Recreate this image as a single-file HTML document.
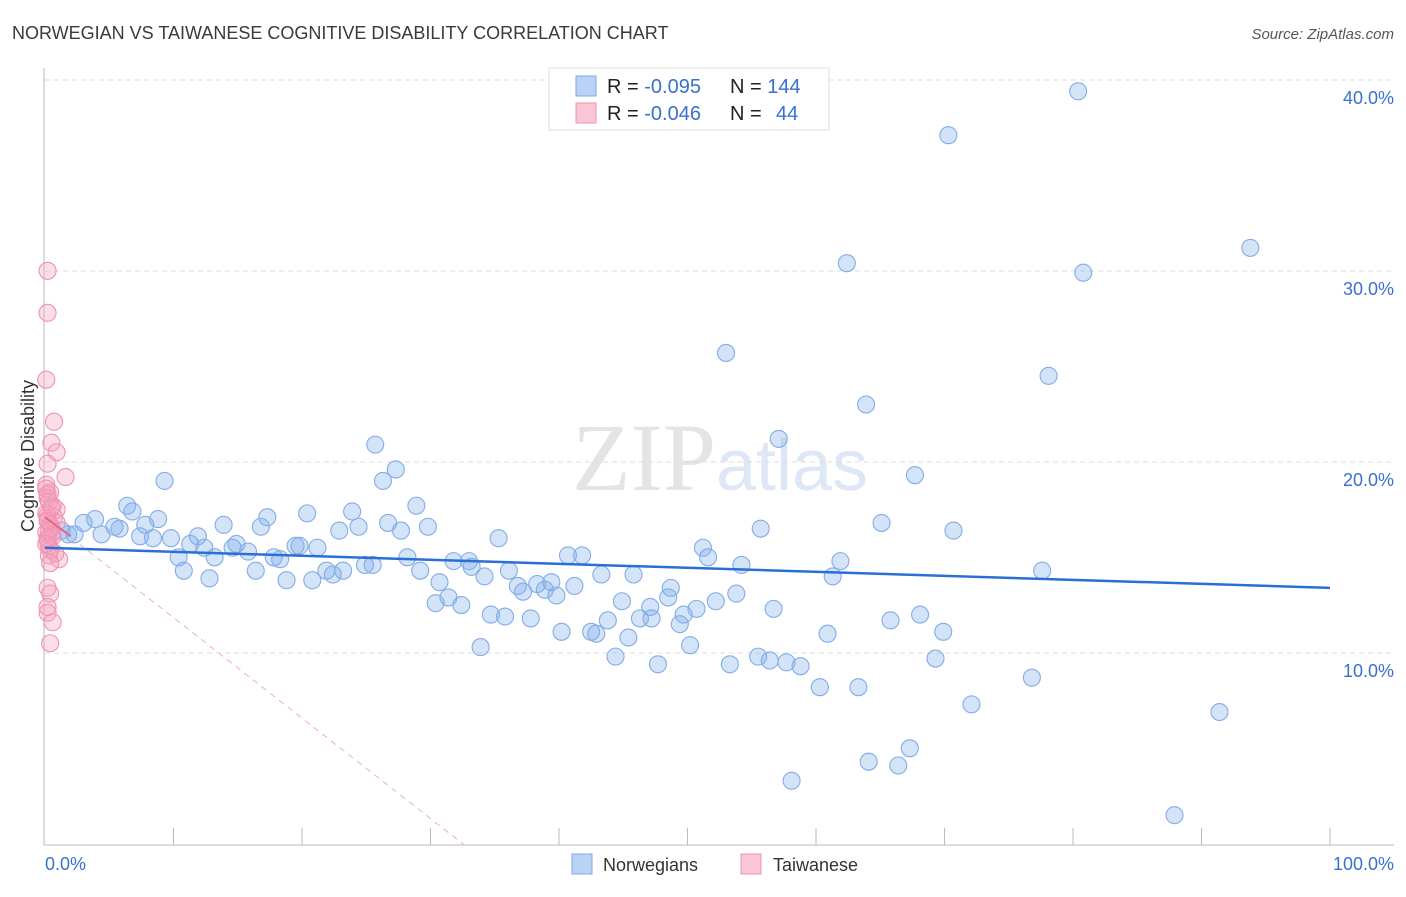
<!DOCTYPE html>
<html><head><meta charset="utf-8"><style>
body{margin:0;background:#fff;font-family:"Liberation Sans",sans-serif;}
svg text{font-family:"Liberation Sans",sans-serif;}
</style></head><body>
<svg id="chart" width="1406" height="892" xmlns="http://www.w3.org/2000/svg">
<text x="12" y="39" font-size="18" fill="#3a3a3a">NORWEGIAN VS TAIWANESE COGNITIVE DISABILITY CORRELATION CHART</text>
<text x="1394" y="39" font-size="15" fill="#555" font-style="italic" text-anchor="end">Source: ZipAtlas.com</text>
<text x="720" y="490" font-size="96" text-anchor="middle" fill="#e4e4e4" font-family="Liberation Serif"><tspan font-family="Liberation Serif">ZIP</tspan><tspan fill="#dde7f5" font-family="Liberation Sans" font-size="72">atlas</tspan></text>
<g id="grid"></g><g id="axes"></g><g id="pts"></g><g id="trend"></g>
<text transform="translate(34,456) rotate(-90)" font-size="18" fill="#333" text-anchor="middle">Cognitive Disability</text>
<text x="45" y="870" font-size="18" fill="#3a70d0">0.0%</text>
<text x="1394" y="870" font-size="18" fill="#3a70d0" text-anchor="end">100.0%</text>
<g>
<rect x="549" y="68" width="280" height="62" fill="#fff" stroke="#ddd"/>
<rect x="576" y="76" width="20" height="20" fill="#b9d2f5" stroke="#7ea9e6"/>
<rect x="576" y="103" width="20" height="20" fill="#f9c6d6" stroke="#ee93b0"/>
<text x="607" y="93" font-size="20" fill="#222">R = <tspan fill="#3a70d0">-0.095</tspan><tspan x="730">N = </tspan><tspan fill="#3a70d0">144</tspan></text>
<text x="607" y="120" font-size="20" fill="#222">R = <tspan fill="#3a70d0">-0.046</tspan><tspan x="730">N = </tspan><tspan fill="#3a70d0" x="776">44</tspan></text>
</g>
<g>
<rect x="572" y="854" width="20" height="20" fill="#b9d2f5" stroke="#7ea9e6"/>
<text x="603" y="871" font-size="18" fill="#333">Norwegians</text>
<rect x="741" y="854" width="20" height="20" fill="#f9c6d6" stroke="#ee93b0"/>
<text x="773" y="871" font-size="18" fill="#333">Taiwanese</text>
</g>
</svg>
<script>
const yTicks=[10,20,30,40];
const yTickLabels=["10.0%","20.0%","30.0%","40.0%"];
const xTicks=[10,20,30,40,50,60,70,80,90,100];
const blueX=[80.4,70.3,93.8,62.4,80.8,53.0,78.1,63.9,57.1,25.7,67.7,27.3,9.3,26.3,28.9,6.4,6.8,20.4,17.3,23.9,8.8,29.8,26.7,16.8,24.4,22.9,27.7,70.7,55.7,65.1,3.9,3.0,5.4,5.8,7.8,13.9,1.3,1.8,2.3,4.4,7.4,8.4,9.8,11.3,11.9,14.9,14.6,15.8,12.4,19.5,19.8,21.2,35.3,51.2,40.7,41.8,17.8,18.3,10.4,13.2,28.2,24.9,25.5,31.8,33.0,51.6,54.2,61.9,10.8,16.4,21.9,23.2,22.4,29.2,33.2,34.2,36.1,43.3,45.8,61.3,77.6,12.8,18.8,20.8,30.7,36.8,38.3,39.4,41.2,48.7,37.2,38.9,39.8,31.4,53.8,30.4,32.4,44.9,48.5,52.2,47.1,50.7,56.7,34.7,35.8,49.7,68.1,46.3,47.2,43.8,65.8,37.8,49.4,69.9,40.2,42.5,42.9,45.4,60.9,33.9,50.2,44.4,55.5,56.4,57.7,47.7,53.3,58.8,69.3,76.8,60.3,63.3,72.1,91.4,67.3,64.1,66.4,58.1,87.9];
const blueY=[40.3,38.0,32.1,31.3,30.8,26.6,25.4,23.9,22.1,21.8,20.2,20.5,19.9,19.9,18.6,18.6,18.3,18.2,18.0,18.3,17.9,17.5,17.7,17.5,17.5,17.3,17.3,17.3,17.4,17.7,17.9,17.7,17.5,17.4,17.6,17.6,17.3,17.1,17.1,17.1,17.0,16.9,16.9,16.6,17.0,16.6,16.4,16.2,16.4,16.5,16.5,16.4,16.9,16.4,16.0,16.0,15.9,15.8,15.9,15.9,15.9,15.5,15.5,15.7,15.7,15.9,15.5,15.7,15.2,15.2,15.2,15.2,15.0,15.2,15.4,14.9,15.2,15.0,15.0,14.9,15.2,14.8,14.7,14.7,14.6,14.4,14.5,14.6,14.4,14.3,14.1,14.2,13.9,13.8,14.0,13.5,13.4,13.6,13.8,13.6,13.3,13.2,13.2,12.9,12.8,12.9,12.9,12.7,12.7,12.6,12.6,12.7,12.4,12.0,12.0,12.0,11.9,11.7,11.9,11.2,11.3,10.7,10.7,10.5,10.4,10.3,10.3,10.2,10.6,9.6,9.1,9.1,8.2,7.8,5.9,5.2,5.0,4.2,2.4];
const pinkX=[0.2,0.2,0.1,0.7,0.5,0.9,0.2,1.6,0.1,0.4,0.2,0.6,0.2,0.9,0.2,0.4,0.1,0.5,0.2,0.3,1.1,0.2,0.4,0.2,0.2,0.6,0.4,0.1,0.3,0.7,0.5,0.2,0.4,0.9,0.1,0.3,0.6,0.2,0.5,0.3,0.1,0.8,0.4,0.2];
const pinkY=[30.9,28.7,25.2,23.0,21.9,21.4,20.8,20.1,19.7,19.3,19.0,18.6,18.1,18.4,17.9,17.6,17.2,17.1,16.8,16.5,15.8,14.3,14.0,13.3,13.0,12.5,11.4,19.5,18.8,18.0,17.4,16.9,16.3,17.7,18.2,16.0,17.0,19.2,18.5,17.3,16.6,16.1,15.6,17.8];
const blueTrend=[16.4,14.3];
const pinkTrend=[18.0,0.8];
const X=v=>45+v*12.85, Y=v=>861-v*19.1;
const NS="http://www.w3.org/2000/svg";
function mk(t,p,a){const e=document.createElementNS(NS,t);for(const k in a)e.setAttribute(k,a[k]);document.getElementById(p).appendChild(e);return e;}
yTicks.forEach((t,i)=>{
 const l=mk('line','grid',{x1:45,x2:1394,y1:Y(t)-17,y2:Y(t)-17,stroke:'#ddd','stroke-dasharray':'5,4'});
 
 
 const tx=mk('text','grid',{x:1394,y:Y(t)+7,'font-size':18,fill:'#3a70d0','text-anchor':'end'});
 tx.textContent=yTickLabels[i];
 
 
});
const ya=mk('line','axes',{x1:44,x2:44,y1:68,y2:845,stroke:'#bbb'});


const xa=mk('line','axes',{x1:44,x2:1394,y1:845,y2:845,stroke:'#bbb'});


xTicks.forEach(t=>{const l=mk('line','axes',{x1:X(t),x2:X(t),y1:828,y2:845,stroke:'#bbb'});
 
 });
blueX.forEach((v,i)=>{const c=mk('circle','pts',{cx:X(v),cy:Y(blueY[i]),r:8.5,fill:'rgba(130,175,235,0.35)',stroke:'#84ace6','stroke-width':1.1});
 
 });
pinkX.forEach((v,i)=>{const c=mk('circle','pts',{cx:X(v),cy:Y(pinkY[i]),r:8.5,fill:'rgba(245,160,190,0.35)',stroke:'#ee93b0','stroke-width':1.1});
 
 });
const bt=mk('line','trend',{x1:X(0),y1:Y(blueTrend[0]),x2:X(100),y2:Y(blueTrend[1]),stroke:'#2a6fd6','stroke-width':2.5});


const pt=mk('line','trend',{x1:X(0),y1:Y(pinkTrend[0]),x2:X(32.7),y2:Y(pinkTrend[1]),stroke:'#eeb0c2','stroke-width':1,'stroke-dasharray':'6,5'});


const ps=mk('line','trend',{x1:X(0),y1:Y(pinkTrend[0]),x2:X(2),y2:Y(pinkTrend[0]-1),stroke:'#e0668e','stroke-width':2});


</script>
</body></html>
